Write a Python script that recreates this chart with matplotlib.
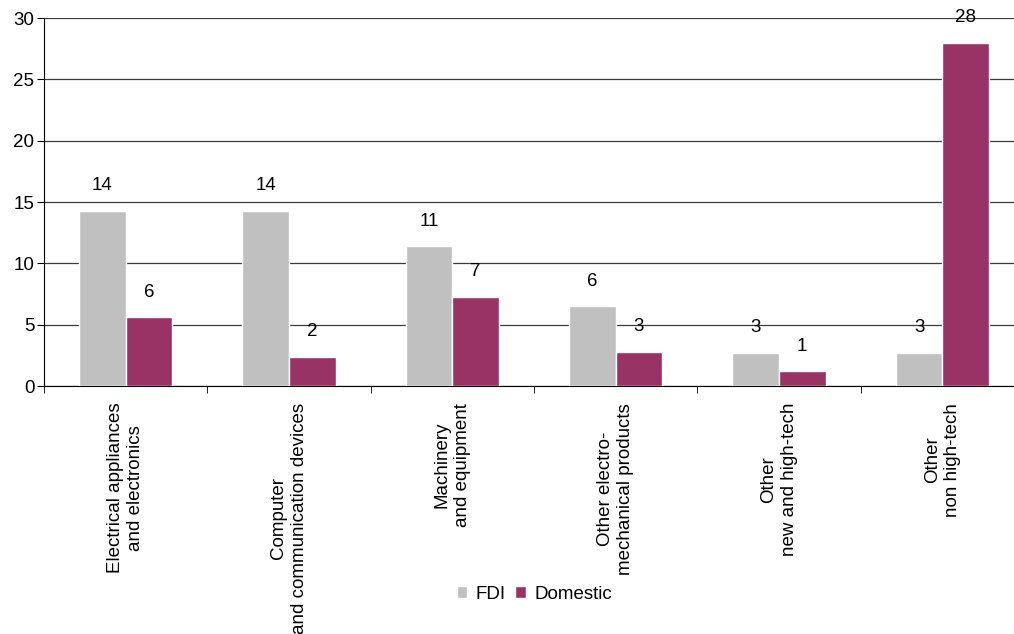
import numpy as np
import matplotlib
matplotlib.use("Agg")
from matplotlib import pyplot as plt

plt.rcParams['font.family'] = ['Liberation Sans', 'DejaVu Sans']

categories = [
    'Electrical appliances\nand electronics',
    'Computer\nand communication devices',
    'Machinery\nand equipment',
    'Other electro-\nmechanical products',
    'Other\nnew and high-tech',
    'Other\nnon high-tech',
]
fdi = [14.3, 14.3, 11.4, 6.5, 2.7, 2.7]
domestic = [5.6, 2.4, 7.3, 2.8, 1.2, 28.0]

fs = 13.5
fig = plt.figure(figsize=(10.14, 6.34), dpi=100)
ax = fig.add_axes([0.0434, 0.391, 0.9665, 0.5806])

x = np.arange(len(categories))
w = 0.285
b1 = ax.bar(x - w / 2, fdi, w, color='#C0C0C0', edgecolor='white', linewidth=1, label='FDI', zorder=3)
b2 = ax.bar(x + w / 2, domestic, w, color='#993366', edgecolor='white', linewidth=1, label='Domestic', zorder=3)

for bars, vals in ((b1, fdi), (b2, domestic)):
    for r, v in zip(bars, vals):
        ax.annotate(f'{v:.0f}', (r.get_x() + r.get_width() / 2, v), xytext=(0, 18),
                    textcoords='offset points', ha='center', va='center', fontsize=fs)

ax.set_xlim(-0.5, len(categories) - 0.5)
ax.set_ylim(0, 30)
ax.set_yticks(range(0, 31, 5))
ax.yaxis.grid(True, color='#3a3a3a', linewidth=0.9, zorder=0)
ax.set_axisbelow(True)

ax.set_xticks(x)
ax.set_xticklabels(categories, rotation=90, ha='center', va='top', multialignment='center',
                   fontsize=fs, linespacing=1.25)
ax.set_xticks(np.arange(-0.5, len(categories)), minor=True)
ax.tick_params(axis='x', which='major', length=0, pad=12)
ax.tick_params(axis='x', which='minor', length=5, color='black', direction='out')
ax.tick_params(axis='y', length=5, labelsize=fs, pad=2, color='black')

for s in ('top', 'right'):
    ax.spines[s].set_visible(False)
ax.spines['left'].set_color('black')
ax.spines['bottom'].set_color('black')

fig.legend(handles=[b1, b2], labels=['FDI', 'Domestic'], loc='center', bbox_to_anchor=(0.527, 0.063),
           ncol=2, frameon=False, fontsize=fs, handlelength=0.55, handleheight=0.55,
           handletextpad=0.45, columnspacing=0.5)

fig.savefig('out.png', dpi=100)
